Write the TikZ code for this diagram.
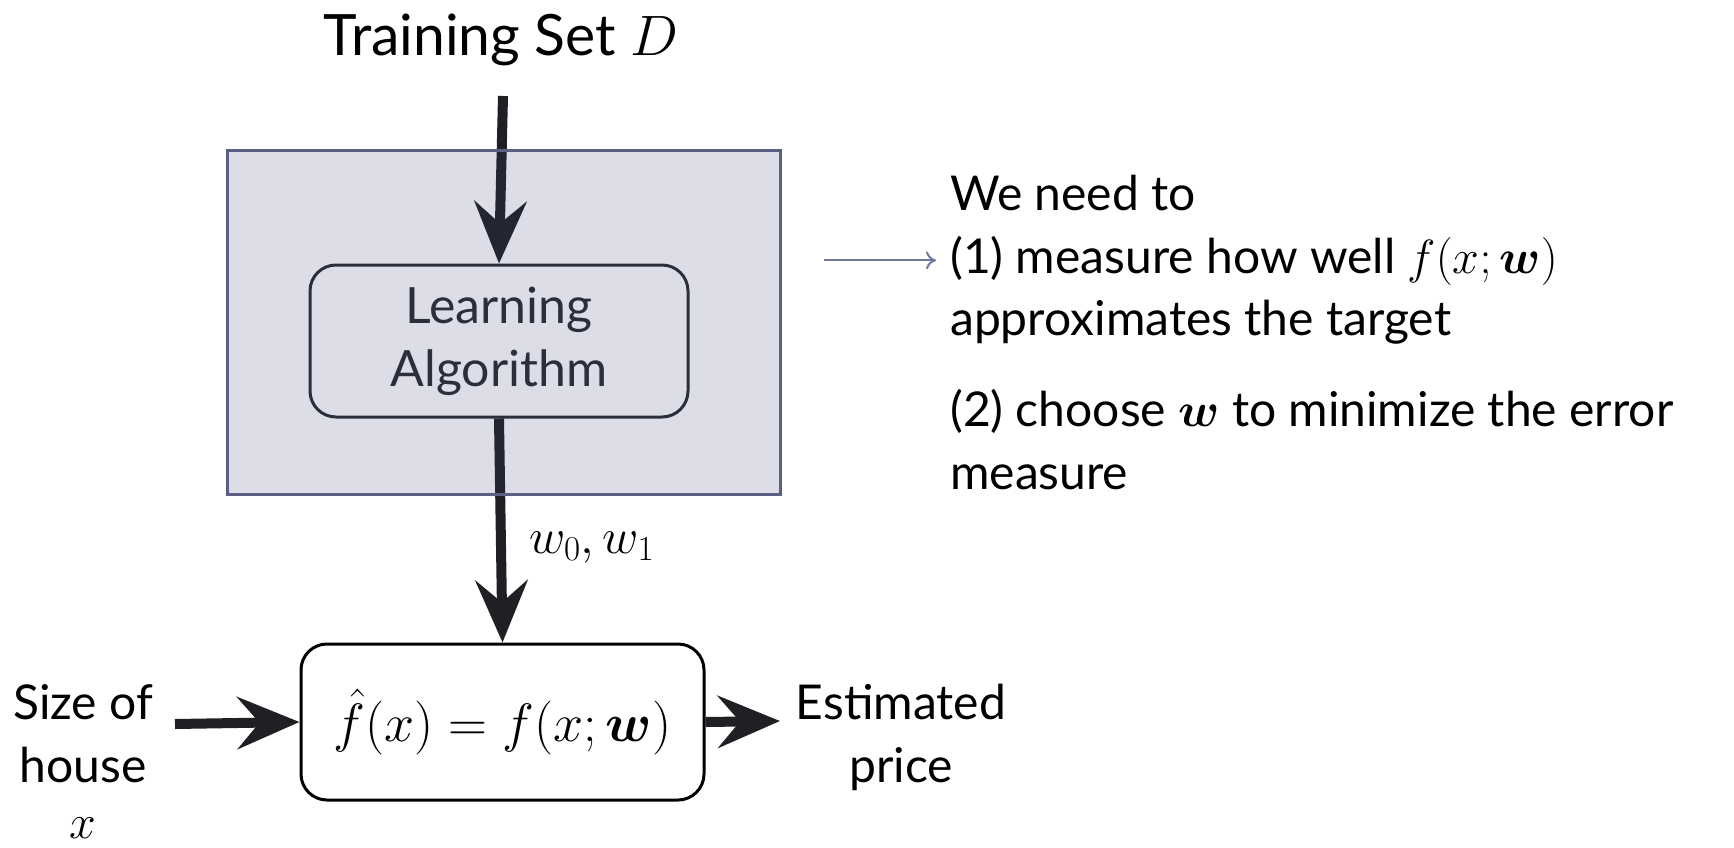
\RequirePackage{fix-cm}
\documentclass[tikz,border=0pt]{standalone}
\usepackage{fontspec}
\usepackage{amsmath}
\usepackage{bm}
\setmainfont{Lato}
\usetikzlibrary{arrows.meta}
\definecolor{ink}{HTML}{1F1F24}
\definecolor{panelfill}{HTML}{3C4274}
\definecolor{panelline}{HTML}{5B6083}
\definecolor{boxline}{HTML}{2A2A30}
\definecolor{thinarrow}{HTML}{7078A0}
\tikzset{
  body/.style={font=\fontsize{48}{56}\selectfont, text=black, inner sep=0pt},
  titletext/.style={font=\fontsize{57}{64}\selectfont, text=black, inner sep=0pt},
  fat/.style={draw=ink, line width=10pt, -{Stealth[length=62pt,width=52pt,inset=22pt]}},
  roundbox/.style={draw=boxline, line width=3pt, rounded corners=26pt, inner sep=0pt},
}
\begin{document}
\begin{tikzpicture}[x=1pt,y=-1pt]
\useasboundingbox (0,0) rectangle (1734,848);
% title
\node[titletext, anchor=base] (title) at (501,56) {Training Set $D$};
\coordinate (tstart) at (503,96);
% learning box
\node[roundbox, minimum width=378pt, minimum height=152pt, align=center,
      font=\fontsize{50}{63}\selectfont, text=boxline] (learn) at (499,341) {Learning\\Algorithm};
% model box
\node[roundbox, draw=black, fill=white, minimum width=403pt, minimum height=156pt,
      font=\fontsize{54}{60}\selectfont] (fbox) at (502.5,722) {$\hat{f}(x) = f(x;\bm{w})$};
\draw[fat] (tstart) -- (learn.north);
\draw[fat] (learn.south) -- (fbox.north);
\node[body, anchor=base west, font=\fontsize{50}{56}\selectfont] (wlab) at (529,553) {$w_0, w_1$};
% input / output
\coordinate (instart) at (175,724);
\coordinate (outend) at (780,721);
\draw[fat] (instart) -- (fbox.west);
\draw[fat] (fbox.east) -- (outend);
\node[body, anchor=base] (in1) at (83,719) {Size of};
\node[body, anchor=base] (in2) at (83,782) {house};
\node[body, anchor=base] (in3) at (83,838) {$x$};
\node[body, anchor=base] (out1) at (901,719) {Estimated};
\node[body, anchor=base] (out2) at (901,782) {price};
% panel overlay
\node[draw=panelline, line width=3pt, fill=panelfill, fill opacity=0.18,
      minimum width=553pt, minimum height=344pt, inner sep=0pt] (panel) at (503.5,322) {};
% note
\coordinate (nstart) at (824,263);
\node[body, anchor=base west] (t1) at (950,210) {We need to};
\node[body, anchor=base west] (t2) at (950,273) {(1) measure how well $f(x;\bm{w})$};
\node[body, anchor=base west] (t3) at (950,335) {approximates the target};
\node[body, anchor=base west] (t4) at (950,426) {(2) choose $\bm{w}$ to minimize the error};
\node[body, anchor=base west] (t5) at (950,489) {measure};
\draw[thinarrow, line width=2pt, -{To[length=10pt,width=18pt]}] (nstart |- t2.west) -- ([xshift=-14pt]t2.west);
\end{tikzpicture}
\end{document}
